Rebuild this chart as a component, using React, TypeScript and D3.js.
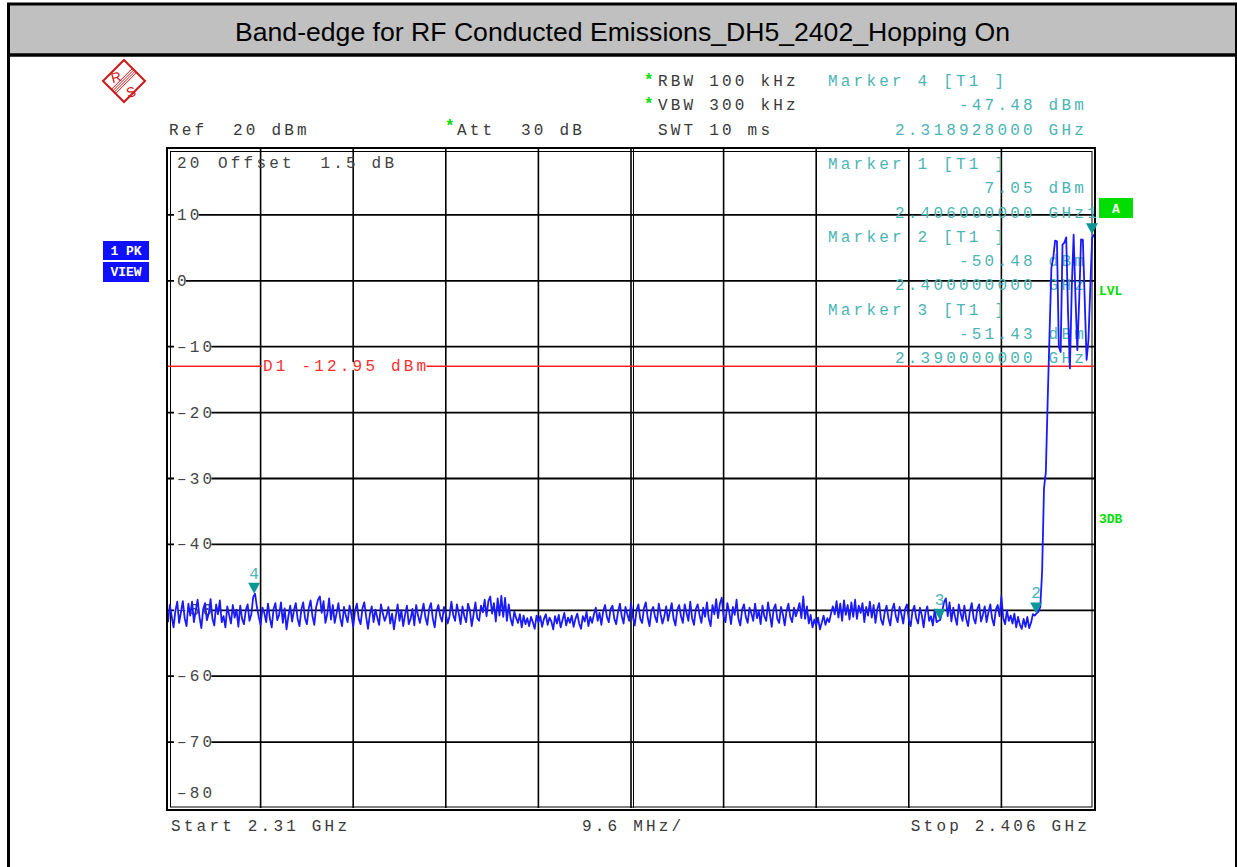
import React from "react";
import * as d3 from "d3";

// ---------- data ----------
const TITLE = "Band-edge for RF Conducted Emissions_DH5_2402_Hopping On";
const START_GHZ = 2.31;
const STOP_GHZ = 2.406;
const REF_DBM = 20;
const BOTTOM_DBM = -80;
const yTickValues = [20, 10, 0, -10, -20, -30, -40, -50, -60, -70, -80];
const xDivisions = 10;
const D1_DBM = -12.95;

// peak trace, 501 points from start to stop (dBm)
const noiseTrace = [
  -51.8, -49.2, -50.9, -52.6, -50.1, -48.7, -51.9, -50.3, -48.6, -51.2, -52.4, -49.0, -50.8, -48.7, -51.8, -50.0, -48.4, -51.0, -52.7, -49.8,
  -48.9, -51.5, -50.5, -48.3, -51.3, -52.3, -49.1, -50.6, -48.5, -51.8, -50.9, -52.6, -49.4, -50.7, -52.0, -49.2, -51.1, -49.9, -52.5, -49.3,
  -51.3, -52.1, -50.0, -49.1, -51.6, -50.6, -48.0, -47.48, -49.5, -51.0, -52.2, -49.6, -50.4, -51.8, -49.0, -51.2, -52.6, -49.8, -48.9, -51.5,
  -50.7, -48.8, -51.9, -49.7, -52.9, -50.9, -49.3, -51.7, -50.0, -48.9, -51.3, -52.4, -49.9, -48.8, -51.2, -52.1, -49.7, -48.5, -50.9, -52.2,
  -49.5, -48.4, -47.9, -50.4, -48.6, -51.9, -50.6, -48.2, -51.4, -49.2, -51.9, -50.5, -48.9, -51.2, -52.4, -49.5, -50.8, -51.8, -49.3, -50.6,
  -52.5, -50.0, -49.0, -51.3, -52.1, -49.7, -48.8, -51.0, -52.8, -50.6, -49.4, -51.8, -49.9, -51.1, -52.2, -49.1, -50.5, -51.6, -50.8, -49.5,
  -52.0, -50.5, -52.9, -50.9, -49.1, -51.6, -50.0, -52.4, -50.7, -49.3, -52.1, -51.3, -49.8, -52.3, -49.2, -50.8, -51.9, -50.4, -49.0, -51.1,
  -52.2, -49.8, -48.9, -51.3, -52.6, -50.1, -49.2, -50.9, -51.7, -49.5, -50.6, -52.0, -50.9, -48.7, -50.7, -51.6, -49.1, -50.5, -52.1, -49.4,
  -50.9, -51.8, -49.0, -50.0, -52.4, -50.6, -48.8, -51.2, -51.6, -49.3, -50.3, -48.4, -50.9, -48.6, -47.9, -50.5, -48.9, -51.7, -48.2, -50.8,
  -47.8, -51.0, -48.1, -51.6, -49.1, -51.3, -52.3, -50.2, -51.2, -51.9, -50.6, -52.6, -50.8, -52.1, -51.2, -52.4, -51.0, -51.8, -52.8, -50.8,
  -51.8, -50.9, -52.5, -51.3, -50.6, -52.2, -51.1, -51.7, -52.9, -50.9, -52.0, -50.7, -52.6, -51.5, -50.4, -52.3, -51.1, -51.9, -50.8, -52.5,
  -51.3, -50.5, -52.0, -52.8, -50.9, -51.7, -50.2, -52.4, -51.0, -51.9, -50.6, -49.6, -51.6, -50.4, -52.2, -50.1, -49.2, -51.0, -51.8, -49.8,
  -49.3, -51.3, -52.1, -50.2, -49.0, -50.9, -52.0, -49.5, -50.6, -51.6, -48.9, -51.0, -52.3, -50.0, -49.1, -51.3, -51.9, -49.7, -48.8, -51.1,
  -52.4, -50.1, -49.5, -51.0, -51.8, -49.0, -50.6, -52.0, -50.9, -49.4, -51.6, -50.2, -48.9, -51.3, -52.3, -49.9, -49.2, -50.9, -51.9, -49.1,
  -50.4, -51.6, -48.7, -51.2, -52.2, -49.8, -49.1, -50.7, -51.9, -49.6, -51.0, -48.8, -51.3, -52.4, -49.2, -50.6, -48.3, -51.2, -49.0, -48.1,
  -50.9, -51.8, -48.9, -50.2, -52.1, -49.5, -50.7, -48.4, -51.3, -52.3, -49.9, -49.1, -51.0, -51.9, -49.6, -50.5, -51.6, -49.0, -51.2, -50.1,
  -52.1, -49.3, -50.9, -51.6, -48.8, -50.6, -52.5, -49.8, -49.1, -51.3, -51.9, -49.5, -50.6, -52.3, -50.1, -49.0, -51.0, -51.8, -49.6, -50.9,
  -50.0, -48.9, -51.2, -47.9, -51.3, -49.4, -52.0, -50.7, -52.6, -51.4, -52.3, -51.1, -52.9, -51.9, -50.8, -52.2, -51.2, -51.8, -50.5, -49.4,
  -50.6, -48.6, -51.1, -49.0, -51.6, -48.5, -50.7, -49.2, -51.4, -48.8, -51.0, -48.4, -51.3, -49.3, -50.4, -48.9, -51.8, -49.5, -50.8, -48.7,
  -51.1, -49.2, -51.9, -49.8, -48.9, -51.4, -52.2, -50.3, -49.3, -51.2, -52.3, -49.9, -49.0, -50.9, -51.8, -49.5, -50.6, -52.0, -49.8, -49.1,
  -51.4, -52.4, -50.1, -49.3, -51.2, -52.0, -49.6, -50.7, -52.6, -50.3, -49.4, -51.6, -50.9, -52.3, -49.9, -51.8, -51.6, -51.43, -50.2, -48.8,
  -48.2, -50.9, -48.8, -51.7, -49.6, -51.0, -52.2, -49.1, -50.5, -51.6, -49.3, -51.3, -52.4, -50.1, -48.9, -51.2, -52.0, -49.8, -49.1, -51.7,
  -50.7, -49.4, -51.8, -50.3, -49.1, -51.3, -52.3, -49.9, -49.2, -50.9, -47.9, -51.2, -52.1, -50.0, -51.6, -50.8, -52.0, -50.5, -52.6, -51.0,
  -52.2, -52.8, -51.3, -52.5, -51.0, -52.7, -51.9, -50.6,
];
const signalTrace = [
  -50.8, -50.48, -50.2, -49.5, -44.0, -31.5, -29.0, -18.0, -8.0, 2.0, 3.5, 6.1, 6.0, -10.0, -10.8, 5.5, 5.8,
  6.6, -5.0, -13.3, -1.0, 7.0, -2.5, -10.5, -3.0, 6.3, 6.2, -3.0, -12.0, -9.0, -1.0, 6.5, 7.05,
];

const markerIds = ["1", "2", "3", "4"];
const markerFreqs = [2.406, 2.4, 2.39, 2.318928];
const markerLevels = [7.05, -50.48, -51.43, -47.48];
const markerFreqLabels = ["2.406000000 GHz", "2.400000000 GHz", "2.390000000 GHz", "2.318928000 GHz"];
const markerLevelLabels = ["7.05 dBm", "-50.48 dBm", "-51.43 dBm", "-47.48 dBm"];

const headerLines = ["RBW 100 kHz", "VBW 300 kHz", "SWT 10 ms"];
const headerStars = [true, true, false];
const refLabel = "Ref  20 dBm";
const attLabel = "Att  30 dB";
const offsetLabel = "Offset  1.5 dB";
const d1Label = "D1 -12.95 dBm";
const startLabel = "Start 2.31 GHz";
const spanLabel = "9.6 MHz/";
const stopLabel = "Stop 2.406 GHz";

// ---------- layout ----------
const W = 1237;
const H = 867;
const PL = 168, PR = 1094, PT = 149, PB = 808;
const MONO = "'Liberation Mono', 'DejaVu Sans Mono', monospace";
const FS = 16;
const ADV = 12.8;
const LS = ADV - FS * 0.6;
const GRAY = "#3a3a3a";
const TEAL = "#4cb4b4";
const TEAL_DARK = "#0f9696";
const GREEN = "#00dd00";

function Mono({ x, y, children, fill = GRAY, weight = "normal" as any }: any) {
  return (
    <text x={x} y={y} fontFamily={MONO} fontSize={FS} fill={fill} fontWeight={weight}
      style={{ letterSpacing: `${LS}px`, whiteSpace: "pre" }}>{children}</text>
  );
}

export default function App() {
  const trace = [...noiseTrace, ...signalTrace];
  const x = d3.scaleLinear().domain([START_GHZ, STOP_GHZ]).range([PL, PR]);
  const y = d3.scaleLinear().domain([REF_DBM, BOTTOM_DBM]).range([PT, PB]);
  const step = (STOP_GHZ - START_GHZ) / (trace.length - 1);
  const line = d3.line<number>().x((_, i) => x(START_GHZ + i * step)).y((d) => y(d));
  const xGrid = d3.range(1, xDivisions).map((i) => START_GHZ + (i * (STOP_GHZ - START_GHZ)) / xDivisions);
  const hGrid = yTickValues.filter((v) => v < REF_DBM && v > BOTTOM_DBM);
  const rightEnd = 1087;
  const colX = 828;

  const topRowsY = [86, 110, 135];
  const gridRowsY = [169, 193, 218, 242, 266, 290, 315, 339, 363];

  const logoC = { x: 124, y: 81 }, logoR = 21;

  return (
    <svg width={W} height={H} style={{ position: "absolute", left: 0, top: 0, background: "#fff" }}>
      <rect x={0} y={0} width={W} height={H} fill="#fff" />
      {/* frame & title */}
      <rect x={9} y={4} width={1227} height={51} fill="#c0c0c0" />
      <line x1={8.5} y1={3} x2={8.5} y2={H} stroke="#000" strokeWidth={3} />
      <line x1={7} y1={4} x2={W} y2={4} stroke="#000" strokeWidth={3} />
      <line x1={1236} y1={3} x2={1236} y2={H} stroke="#000" strokeWidth={2} />
      <line x1={7} y1={55} x2={W} y2={55} stroke="#000" strokeWidth={3.5} />
      <text x={622.5} y={41} textAnchor="middle" fontFamily="'Liberation Sans', Arial, sans-serif" fontSize={25}
        fill="#000" textLength={775} lengthAdjust="spacingAndGlyphs">{TITLE}</text>

      {/* R&S logo */}
      <g stroke="#d01818" fill="none">
        <polygon strokeWidth={2}
          points={`${logoC.x},${logoC.y - logoR} ${logoC.x + logoR},${logoC.y} ${logoC.x},${logoC.y + logoR} ${logoC.x - logoR},${logoC.y}`} />
        {[-3, -1, 1, 3].map((o) => (
          <line key={o} strokeWidth={1}
            x1={logoC.x - logoR / 2 + o * 0.707} y1={logoC.y + logoR / 2 + o * 0.707}
            x2={logoC.x + logoR / 2 + o * 0.707} y2={logoC.y - logoR / 2 + o * 0.707} />
        ))}
      </g>
      <text x={116} y={82} fontFamily="'Liberation Sans', Arial, sans-serif" fontSize={14} fill="#d01818" textAnchor="middle"
        transform="rotate(-15 116 77)">R</text>
      <text x={131} y={97} fontFamily="'Liberation Sans', Arial, sans-serif" fontSize={14} fill="#d01818" textAnchor="middle"
        transform="rotate(-15 131 92)">S</text>

      {/* 1 PK VIEW */}
      <rect x={103} y={241} width={46} height={19} fill="#1010ff" />
      <rect x={103} y={262} width={46} height={20} fill="#1010ff" />
      <text x={126} y={255} textAnchor="middle" fontFamily={MONO} fontWeight="bold" fontSize={13} fill="#fff"
        style={{ whiteSpace: "pre" }}>1 PK</text>
      <text x={126} y={276} textAnchor="middle" fontFamily={MONO} fontWeight="bold" fontSize={13} fill="#fff">VIEW</text>

      {/* header texts */}
      <Mono x={169} y={135}>{refLabel}</Mono>
      <text x={445} y={131} fontFamily={MONO} fontSize={16} fontWeight="bold" fill={GREEN}>*</text>
      <Mono x={457} y={135}>{attLabel}</Mono>
      {headerLines.map((t, i) => (
        <g key={t}>
          {headerStars[i] && (
            <text x={644} y={topRowsY[i] - 1} fontFamily={MONO} fontSize={16} fontWeight="bold" fill={GREEN}>*</text>
          )}
          <Mono x={658} y={topRowsY[i]}>{t}</Mono>
        </g>
      ))}
      <Mono x={colX} y={topRowsY[0]} fill={TEAL}>{`Marker ${markerIds[3]} [T1 ]`}</Mono>
      <Mono x={rightEnd - markerLevelLabels[3].length * ADV} y={topRowsY[1]} fill={TEAL}>{markerLevelLabels[3]}</Mono>
      <Mono x={rightEnd - markerFreqLabels[3].length * ADV} y={topRowsY[2]} fill={TEAL}>{markerFreqLabels[3]}</Mono>

      {/* grid */}
      <g stroke="#000" fill="none">
        {xGrid.map((f, i) => (
          <line key={"v" + i} x1={x(f)} x2={x(f)} y1={PT} y2={PB} strokeWidth={1.6} />
        ))}
        <line x1={x(xGrid[4]) + 2.5} x2={x(xGrid[4]) + 2.5} y1={PT} y2={PB} strokeWidth={1} />
        {hGrid.map((v) => (
          <line key={"h" + v} x1={PL} x2={PR} y1={y(v)} y2={y(v)} strokeWidth={1.8} />
        ))}
        <rect x={167} y={148} width={928} height={662} strokeWidth={2} />
        <rect x={170.5} y={151.5} width={921.5} height={655.5} strokeWidth={1} />
      </g>
      {yTickValues.map((v) => {
        const lab = v < 0 ? "–" + Math.abs(v) : String(v);
        const yy = v === REF_DBM ? y(v) + 19 : v === BOTTOM_DBM ? y(v) - 10 : y(v) + 5;
        const inner = v !== REF_DBM && v !== BOTTOM_DBM;
        return (
          <g key={"l" + v}>
            {inner && <rect x={174} y={y(v) - 3} width={lab.length * ADV - 1} height={6} fill="#fff" />}
            <Mono x={177} y={yy} fill="#444">{lab}</Mono>
          </g>
        );
      })}
      <Mono x={218} y={168} fill="#444">{offsetLabel}</Mono>

      {/* display line D1 */}
      <line x1={PL} x2={PR} y1={y(D1_DBM)} y2={y(D1_DBM)} stroke="#ff2020" strokeWidth={1.5} />
      <rect x={262} y={y(D1_DBM) - 4} width={d1Label.length * ADV - 2} height={8} fill="#fff" />
      <Mono x={263} y={y(D1_DBM) + 5} fill="#ff3030">{d1Label}</Mono>

      {/* marker table in grid (markers 1..3) */}
      {[0, 1, 2].map((m) => (
        <g key={"mt" + m}>
          <Mono x={colX} y={gridRowsY[m * 3]} fill={TEAL}>{`Marker ${markerIds[m]} [T1 ]`}</Mono>
          <Mono x={rightEnd - markerLevelLabels[m].length * ADV} y={gridRowsY[m * 3 + 1]} fill={TEAL}>{markerLevelLabels[m]}</Mono>
          <Mono x={rightEnd - markerFreqLabels[m].length * ADV} y={gridRowsY[m * 3 + 2]} fill={TEAL}>{markerFreqLabels[m]}</Mono>
        </g>
      ))}

      {/* trace */}
      <defs>
        <clipPath id="plotclip">
          <rect x={PL} y={PT} width={PR - PL} height={PB - PT} />
        </clipPath>
      </defs>
      <path d={line(trace) || ""} fill="none" stroke="#1a1aff" strokeWidth={1.8} strokeLinejoin="round" clipPath="url(#plotclip)" />

      {/* markers */}
      {markerIds.map((id, i) => {
        const mx = i === 0 ? x(markerFreqs[i]) - 2 : x(markerFreqs[i]);
        const my = y(markerLevels[i]);
        return (
          <g key={"m" + id}>
            <polygon points={`${mx - 6},${my - 11} ${mx + 6},${my - 11} ${mx},${my}`} fill={TEAL_DARK} />
            <text x={mx} y={i === 0 ? my - 16 : my - 15} textAnchor="middle" fontFamily={MONO} fontSize={16} fill={TEAL}>{id}</text>
          </g>
        );
      })}

      {/* right side indicators */}
      <rect x={1099} y={198} width={34} height={20} fill={GREEN} />
      <text x={1116} y={213} textAnchor="middle" fontFamily={MONO} fontWeight="bold" fontSize={13} fill="#fff">A</text>
      <text x={1099} y={295} fontFamily={MONO} fontWeight="bold" fontSize={13} fill={GREEN}>LVL</text>
      <text x={1099} y={523} fontFamily={MONO} fontWeight="bold" fontSize={13} fill={GREEN}>3DB</text>

      {/* footer */}
      <Mono x={171} y={831}>{startLabel}</Mono>
      <Mono x={582} y={831}>{spanLabel}</Mono>
      <Mono x={1090 - stopLabel.length * ADV} y={831}>{stopLabel}</Mono>
    </svg>
  );
}
